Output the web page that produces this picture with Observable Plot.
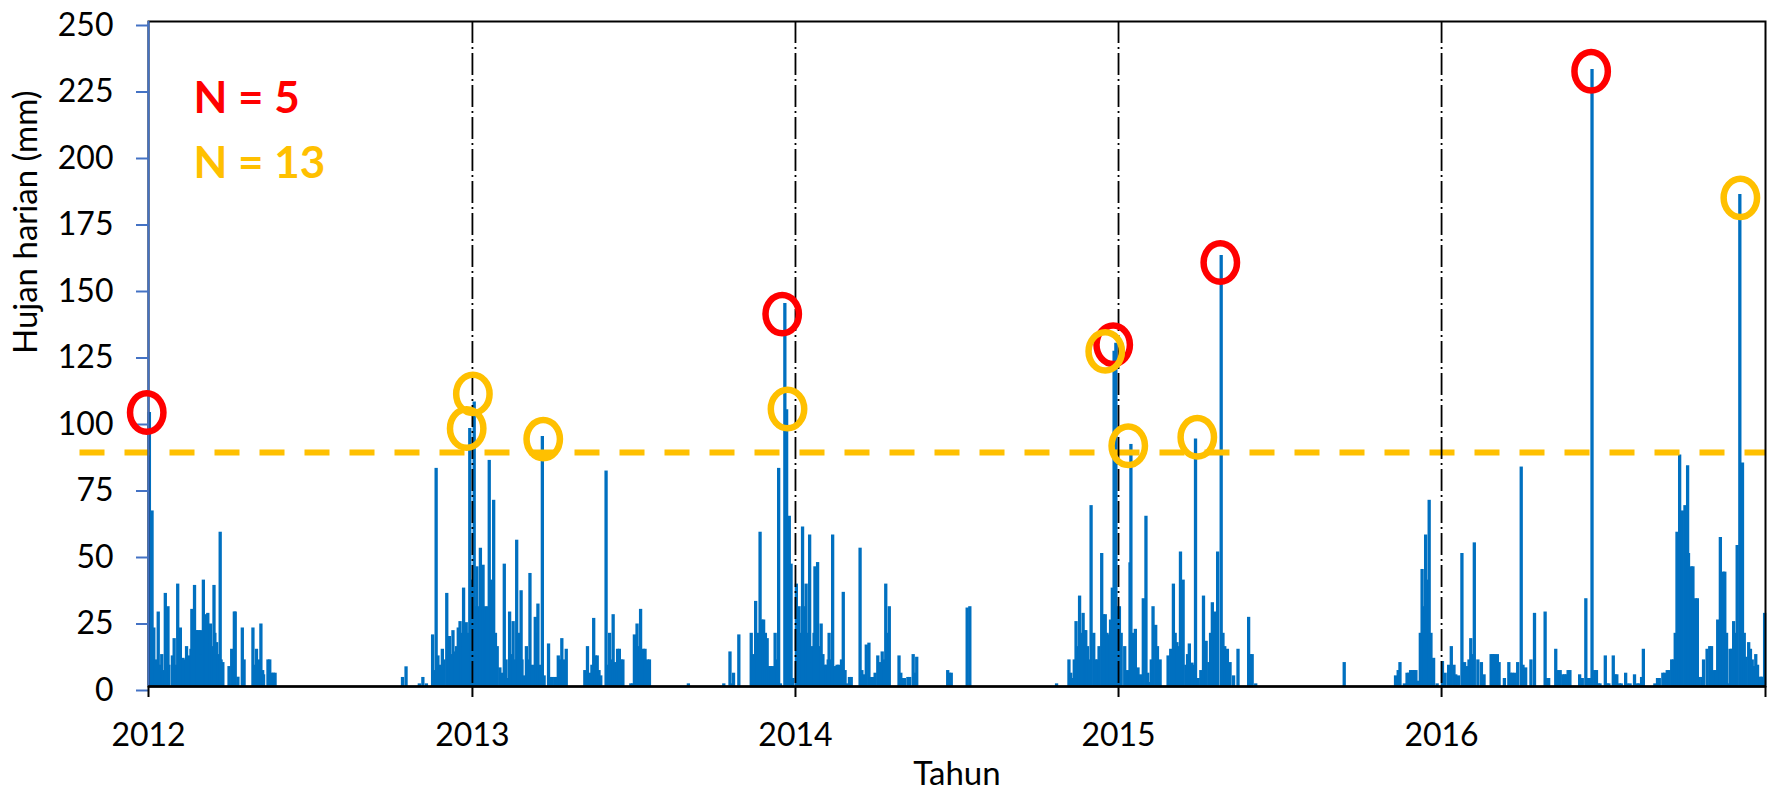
<!DOCTYPE html>
<html>
<head>
<meta charset="utf-8">
<script src="https://cdn.jsdelivr.net/npm/d3@7"></script>
<script src="https://cdn.jsdelivr.net/npm/@observablehq/plot@0.6"></script>
<style>
  html, body { margin: 0; padding: 0; background: #ffffff; }
  #chart svg { display: block; }
</style>
</head>
<body>
<div id="chart"></div>
<script>
// ---------- DATA ----------
const tahun = [2012, 2013, 2014, 2015, 2016];
const tahunLabel = ["2012", "2013", "2014", "2015", "2016"];
const yTicks = [0, 25, 50, 75, 100, 125, 150, 175, 200, 225, 250];

// daily rainfall (mm): [day of year (0 = 1 Jan), value]
const hujan2012 = [[1,103],[2,15],[4,66],[6,22],[8,10],[11,28],[13,8],[15,12],[17,6],[19,35],[21,12],[22,30],[23,8],
[27,11.5],[29,18],[31,8],[33,38.5],[34,12],[36,22],[37,10],[39,10.6],[41,10],[43,15],[44,10],[46,11.5],[48,14],[49,29],[51,20],[52,38],[54,21],[55,21],[57,21],[59,21],[60,12],[62,40],[64,26],[65,27],[67,27.5],[68,16],[70,23.5],[72,15],[74,38],[75,20],[77,16.5],[79,12],[81,58],[82,10],[84,9],
[91,7.5],[94,14],[97,28],[98,28],[101,3.5],[106,22],[108,10],[118,22],[120,8],[122,14],[125,10],[127,23.5],[129,6],[130,4.4],[135,10],[137,10],[139,5],[141,5],[143,5],
[287,3.4],[291,7.4],[306,1],[310,3.4],[314,1],
[321,19.4],[323,6],[325,82],[327,11.5],[329,8],[332,14],[334,10],[337,35],[338,10],[340,18.8],[342,12],[344,21],[346,13],[348,15],[350,22],[352,24.4],[353,20],[354,15],[356,37],[357,22],[359,24],[361,20],[363,97],[365,40]];

const hujan2013 = [[2,107],[4,30],[5,45],[7,30],[9,52],[12,45.6],[14,30],[16,25],[17,30],[19,85],[21,40],[24,70],[26,20],[28,15],[31,7],[33,5],[36,46],[38,10],[39,3],[42,28],[44,12],[46,24.4],[48,10],[50,55],[52,20],[55,36],[56,10],[58,4],[61,15],[63,10],[65,42.5],[68,8],[71,26],[72,20],[74,31],[76,8],[79,94],[81,4],
[86,16],[88,3.4],[90,3.4],[93,3.4],[95,3.4],[97,11.5],[99,10],[101,18],[103,10],[106,14],
[127,6],[130,15],[133,5],[135,8],[137,25.6],[139,11.5],[141,11.5],[143,6],[145,4],
[151,81],[153,8],[155,20],[157,10],[159,27],[161,9],[164,14],[166,14],[168,10],[170,10],
[179,1],[181,1],[183,19.4],[185,10],[186,23.5],[188,15],[190,29],[192,12],[193,14],[195,14],[198,10],[200,10],
[244,1],[284,1],[291,13],[293,1],[295,5],[301,19.4],
[315,20],[317,12],[320,32],[322,20],[325,58],[327,25],[329,25],[331,20],[333,18],[335,7.5],[337,7.5],[339,7.5],[342,20],[344,10],[346,82],[348,1],[353,144],[355,104],[358,64],[360,46],[362,3]];

const hujan2014 = [[1,38.5],[3,25],[4,30],[6,20],[8,60],[10,30],[12,38.5],[14,20],[16,57],[18,15],[19,9],[21,20],[22,45],[25,46.6],[27,15],[29,23.5],[31,12],[33,8],[35,8],[37,10],[38,20],[40,10],[42,57],[45,7.5],[47,8],[49,8],[52,10],[54,35.4],[56,6],[58,1],[61,3.4],[63,3.4],
[73,52],[75,6],[77,4.4],[80,15.6],[83,16.3],[85,3.4],[88,3.4],[90,5],[93,11.5],[96,9],[98,13],[100,10],[102,38.5],[104,20],[106,30],
[117,11.5],[119,5],[121,3],[123,3],[127,3.4],[129,3.4],[133,12],[135,5],[137,11],
[172,6],[174,5],[176,5],[194,29.5],[197,30],
[295,1],[309,10],[311,5],[313,3],[315,10],[317,24.4],[319,15],[321,34],[323,20],[325,27.5],[327,21],[328,21],[330,15],[332,10],[334,68],[337,20],[339,10],[341,10],[343,15],[346,50],[348,27],[350,27],[352,20],[354,19.4],[356,25],[358,37],[360,126],[362,129],[364,30]];

const hujan2015 = [[1,30],[3,20],[7,15],[10,6],[13,46.5],[14,91],[16,20],[19,21.5],[22,7],[25,4.4],[28,33],[31,64],[33,5],[35,1.5],[37,10],[39,30],[42,23],[44,15],[47,10],
[56,11.5],[59,14],[62,38.5],[64,20],[66,16.5],[68,15],[70,50.6],[73,40],[76,8],[78,12],[80,16],[83,8.8],[85,8],[87,93],[90,3],[93,6],[96,34],[99,17],[102,9],[104,20],[106,31.5],[109,28],[112,50.6],[116,162],[118,20],[120,15],[123,14],[126,9],[130,4],
[135,14],[147,26],[149,12],[151,12],[155,1],
[255,9],
[313,4],[316,6],[318,9],[323,1],[326,5],[328,5],[330,6],[332,6],[334,6],[336,6],[339,2],[341,20],[343,44],[345,30],[347,57],[349,40],[351,70],[353,20],[356,10.6],[360,1]];

const hujan2016 = [[1,9.4],[4,5],[8,8],[11,15],[14,8],[16,4.4],[19,4],[23,50],[26,9],[29,7.5],[31,10],[33,18],[35,12],[37,54],[41,10],[45,9],[48,4.4],
[56,12],[58,12],[60,12],[63,12],[65,9],[71,3],[76,9],[78,5],[80,5],[83,5],[86,9],[90,82.5],[92,8],[95,7],
[101,10],[105,27.5],[117,28],[119,3],[121,3],[129,14],[131,6],[134,6],[137,4.4],[139,4.4],[141,4.4],[143,6],[145,6],
[156,4.4],[159,3],[163,33],[165,3],[167,3],[170,232],[173,6],[175,6],[177,1],[179,1],[185,11.5],[187,1],[189,1],[194,11.5],[196,4.4],[198,4.4],[201,1],[203,1],[208,5],[210,1],[213,1],[218,4.4],[221,1],[223,1],[226,3.4],[228,14],
[241,1],[244,3],[246,3],[250,5],[252,5],[255,6],[257,6],[260,10],[262,10],[264,20],[266,58],[269,87],[271,40],[272,66],[275,68],[278,83],[279,50],[282,45],[284,45],[287,33],[289,33],[291,3.4],
[294,3.4],[296,10],[300,14],[303,15],[305,15],[308,6],[310,6],[312,25],[315,56],[316,30],[318,43],[320,43],[322,20],[324,1],[326,14],[328,14],[330,24.4],[331,20],[334,53],[337,185],[340,84],[342,20],[344,11],[347,16.5],[349,14],[351,10],[353,7.5],[355,12],[357,8],[360,3.5],[362,3.5],[365,27.5]];

const ambangBatas = 88; // threshold (mm)

// circled extremes
const merahTanggal = ["2011-12-30", "2013-12-17", "2014-12-26", "2015-04-26", "2016-06-18"];
const merahNilai   = [103, 140, 128.5, 159.4, 231.3];
const kuningTanggal = ["2012-12-25T12:00Z", "2013-01-01T12:00Z", "2013-03-22", "2013-12-23", "2014-12-17", "2015-01-12", "2015-03-31", "2016-12-03T14:00Z"];
const kuningNilai   = [97, 110, 93, 104.3, 126, 90.5, 93.7, 183.7];

const labelN = ["N = 5", "N = 13"];
const judulY = "Hujan harian (mm)";
const judulX = "Tahun";

// ---------- BUILD ----------
const hujanPerTahun = [hujan2012, hujan2013, hujan2014, hujan2015, hujan2016];
const hujan = hujanPerTahun.flatMap((arr, i) =>
  arr.map(([doy, mm]) => ({date: new Date(Date.UTC(tahun[i], 0, 1 + doy)), mm}))
);
const toDate = s => new Date(s.length === 10 ? s + "T00:00Z" : s);
const merah = merahTanggal.map((t, i) => ({date: toDate(t), v: merahNilai[i]}));
const kuning = kuningTanggal.map((t, i) => ({date: toDate(t), v: kuningNilai[i]}));
const tahunTicks = tahun.map(y => new Date(Date.UTC(y, 0, 1)));
const awal = tahunTicks[0];
const akhir = new Date(Date.UTC(tahun[tahun.length - 1] + 1, 0, 1));
const garisTahun = tahunTicks.slice(1);

const elips = {
  draw(context, size) {
    const rx = Math.sqrt(size / Math.PI), ry = rx * 1.15, k = 0.5523;
    context.moveTo(rx, 0);
    context.bezierCurveTo(rx, ry * k, rx * k, ry, 0, ry);
    context.bezierCurveTo(-rx * k, ry, -rx, ry * k, -rx, 0);
    context.bezierCurveTo(-rx, -ry * k, -rx * k, -ry, 0, -ry);
    context.bezierCurveTo(rx * k, -ry, rx, -ry * k, rx, 0);
    context.closePath();
  }
};

const BLUE = "#0070C0", AXISBLUE = "#4472C4", RED = "#FF0000", GOLD = "#FFC000";

const chart = Plot.plot({
  width: 1770,
  height: 795,
  marginLeft: 148,
  marginRight: 5,
  marginTop: 21,
  marginBottom: 109,
  style: {fontFamily: "Lato, 'Open Sans', sans-serif", fontSize: "32px", color: "black", background: "white", overflow: "visible"},
  x: {type: "utc", domain: [awal, akhir]},
  y: {domain: [0, 250]},
  marks: [
    Plot.ruleX(hujan, {x: "date", y1: 0, y2: "mm", stroke: BLUE, strokeWidth: 3.3}),
    Plot.ruleY([ambangBatas], {stroke: GOLD, strokeWidth: 6, strokeDasharray: "25,20", insetLeft: -68.5}),
    Plot.ruleX(garisTahun, {stroke: "black", strokeWidth: 1.8, strokeDasharray: "22,4,2,4"}),
    Plot.frame({stroke: "black", strokeWidth: 2}),
    Plot.ruleX([awal], {stroke: AXISBLUE, strokeWidth: 2}),
    Plot.ruleY([0], {stroke: "black", strokeWidth: 2.5}),
    Plot.axisY({ticks: yTicks, tickSize: 12, tickPadding: 23, stroke: AXISBLUE, strokeWidth: 2, fill: "black", label: null, dy: 4, fontSize: 32}),
    Plot.axisX({ticks: tahunTicks, tickSize: 11, tickPadding: 26, stroke: "black", strokeWidth: 2, fill: "black", label: null, tickFormat: d => tahunLabel[tahunTicks.findIndex(t => +t === +d)], fontSize: 32}),
    Plot.axisX({ticks: [akhir], tickSize: 11, stroke: "black", strokeWidth: 2, fill: "none", label: null}),
    Plot.dot(merah, {x: "date", y: "v", r: 16.7, symbol: elips, stroke: RED, strokeWidth: 6.5, fill: "none"}),
    Plot.dot(kuning, {x: "date", y: "v", r: 16.7, symbol: elips, stroke: GOLD, strokeWidth: 6.5, fill: "none"}),
    Plot.text([labelN[0]], {text: d => d, frameAnchor: "top-left", dx: 45, dy: 60, textAnchor: "start", fill: RED, fontSize: 44, fontWeight: "bold"}),
    Plot.text([labelN[1]], {text: d => d, frameAnchor: "top-left", dx: 45, dy: 125, textAnchor: "start", fill: GOLD, fontSize: 44, fontWeight: "bold"}),
    Plot.text([judulY], {text: d => d, frameAnchor: "left", rotate: -90, dx: -122, fontSize: 33, fill: "black"}),
    Plot.text([judulX], {text: d => d, frameAnchor: "bottom", dy: 98, fontSize: 33, fill: "black"})
  ]
});
document.getElementById("chart").appendChild(chart);
</script>
</body>
</html>
